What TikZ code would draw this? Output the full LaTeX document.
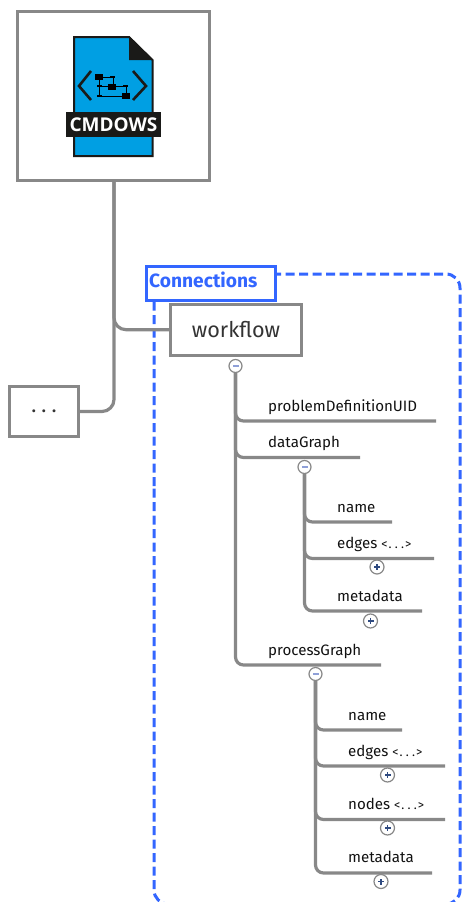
\documentclass[tikz,border=0pt]{standalone}
\usepackage{fontspec}
\setmainfont{Fira Sans}
\newfontfamily\iconfont{Open Sans}
\definecolor{edgegray}{HTML}{888888}
\definecolor{txt}{HTML}{333333}
\definecolor{leaftxt}{HTML}{111111}
\definecolor{conblue}{HTML}{3366FF}
\definecolor{iconblue}{HTML}{009FE3}
\definecolor{iconblack}{HTML}{1A1A18}
\definecolor{minusblue}{HTML}{8FA0D8}
\definecolor{plusblue}{HTML}{2F4A80}
\newcommand{\spdots}{\kern1bp.\kern3.2bp.\kern3.2bp.\kern1bp}
\newcommand{\bigdots}{.\kern5bp.\kern5bp.}
\tikzset{
  x=1bp,y=-1bp,
  elementbox/.style={draw=edgegray,line width=3bp,fill=white,inner sep=0pt,outer sep=0pt,anchor=north west,text=txt},
  trunk/.style={draw=edgegray,line width=3.2bp,rounded corners=12bp},
  branch/.style={draw=edgegray,line width=3.2bp,rounded corners=8bp},
  leaflabel/.style={anchor=base west,inner sep=0pt,text=leaftxt,font=\fontsize{15.1bp}{17bp}\selectfont},
  toggle/.style={circle,draw=edgegray,line width=1.2bp,fill=white,minimum size=13bp,inner sep=0pt},
  dashframe/.style={conblue,line width=3bp,dash pattern=on 9bp off 4.5bp,rounded corners=14bp},
}
\newcommand{\minussign}[1]{\fill[minusblue] ([xshift=-3bp,yshift=-.7bp]#1.center) rectangle ([xshift=3bp,yshift=.7bp]#1.center);}
\newcommand{\plussign}[1]{\fill[plusblue] ([xshift=-3bp,yshift=-.7bp]#1.center) rectangle ([xshift=3bp,yshift=.7bp]#1.center);
  \fill[plusblue] ([xshift=-.7bp,yshift=-3bp]#1.center) rectangle ([xshift=.7bp,yshift=3bp]#1.center);}
\begin{document}
\begin{tikzpicture}
\useasboundingbox (0,0) rectangle (462,902);
% dashed group
\begin{scope}
\clip (0,0) rectangle (462,902);
\draw[dashframe] (154,500) -- (154,274) -- (460,274) -- (460,904) -- (154,904) -- cycle;
\end{scope}
% boxes
\node[elementbox,minimum width=191.7bp,minimum height=169bp] (root) at (17.5,11.5) {};
\node[elementbox,minimum width=69bp,minimum height=50bp,font=\fontsize{21bp}{23bp}\selectfont] (dots) at (9.5,386.5) {\raisebox{1bp}{\bigdots}};
\node[draw=conblue,line width=3bp,fill=white,anchor=north west,minimum width=129bp,minimum height=33.5bp,inner sep=0pt,outer sep=0pt] (conn) at (146.5,266.5) {};
\node[anchor=base west,inner sep=0pt,text=conblue,font=\fontsize{19.2bp}{21bp}\selectfont\bfseries] (connlabel) at (149,287) {Connections};
% trunk
\coordinate (trunkx) at (114,0);
\coordinate (dotsout) at (78.5,411.5);
\draw[trunk] (root.south -| trunkx) -- (trunkx |- dotsout) -- (dotsout);
\node[elementbox,minimum width=131bp,minimum height=51bp,font=\fontsize{21.6bp}{24bp}\selectfont] (workflow) at (170.5,304.2) {workflow};
\draw[trunk] (root.south -| trunkx) -- (trunkx |- workflow.west) -- (workflow.west);
% icon
\draw[iconblack,line width=2bp,fill=iconblue] (74,37) -- (129,37) -- (152.5,60) -- (152.5,156) -- (74,156) -- cycle;
\fill[iconblack] (129,36) -- (153,60) -- (129,60) -- cycle;
\draw[iconblack,line width=2.6bp] (91,71) -- (79,86) -- (91,100);
\draw[iconblack,line width=2.6bp] (133,71) -- (146,86) -- (133,100);
\fill[black] (95,74) rectangle (103,80);
\fill[black] (108,84) rectangle (116,90);
\fill[black] (122,93) rectangle (130,99);
\fill[black] (110,76) rectangle (115,78);
\fill[black] (97,85) rectangle (102,87);
\fill[black] (123,85) rectangle (128,87);
\fill[black] (97,95) rectangle (102,97);
\draw[black,line width=.7bp] (97,86) -- (128,86) (103,77) -- (113,77) (99,77) -- (99,96) -- (122,96) (113,77) -- (113,84) (126,86) -- (126,93);
\fill[iconblack] (66,112) rectangle (161,137);
\node[anchor=center,inner sep=0pt,text=white,font=\iconfont\fontsize{19bp}{21bp}\selectfont\bfseries] (iconlabel) at (113.5,125) {CMDOWS};
% level 1
\node[toggle] (t1) at (235.5,366) {};
\node[leaflabel] (pd) at (268,411) {problemDefinitionUID};
\node[leaflabel] (dg) at (268,447) {dataGraph};
\node[leaflabel] (pg) at (268,655) {processGraph};
\coordinate (pdend) at (436,421);
\coordinate (dgend) at (360,457.5);
\coordinate (pgend) at (381,665);
\draw[branch] (t1.south) -- (t1.south |- pdend) -- (pdend);
\draw[branch] (t1.south) -- (t1.south |- dgend) -- (dgend);
\draw[branch] (t1.south) -- (t1.south |- pgend) -- (pgend);
% dataGraph
\node[toggle] (t2) at (304.5,467) {};
\node[leaflabel] (n1) at (337,512) {name};
\node[leaflabel] (e1) at (337,548) {edges {\fontsize{12.5bp}{14bp}\selectfont <\spdots>}};
\node[leaflabel] (m1) at (337,601) {metadata};
\coordinate (n1end) at (392,522);
\coordinate (e1end) at (434,558.5);
\coordinate (m1end) at (422,611);
\draw[branch] (t2.south) -- (t2.south |- n1end) -- (n1end);
\draw[branch] (t2.south) -- (t2.south |- e1end) -- (e1end);
\draw[branch] (t2.south) -- (t2.south |- m1end) -- (m1end);
\node[toggle,minimum size=14bp] (p1) at (377,567) {};
\node[toggle,minimum size=14bp] (p2) at (370.5,621) {};
% processGraph
\node[toggle] (t3) at (315.5,674) {};
\node[leaflabel] (n2) at (348,720) {name};
\node[leaflabel] (e2) at (348,756) {edges {\fontsize{12.5bp}{14bp}\selectfont <\spdots>}};
\node[leaflabel] (d2) at (348,809) {nodes {\fontsize{12.5bp}{14bp}\selectfont <\spdots>}};
\node[leaflabel] (m2) at (348,862) {metadata};
\coordinate (n2end) at (402,730);
\coordinate (e2end) at (445,766);
\coordinate (d2end) at (445,819.5);
\coordinate (m2end) at (432,873);
\draw[branch] (t3.south) -- (t3.south |- n2end) -- (n2end);
\draw[branch] (t3.south) -- (t3.south |- e2end) -- (e2end);
\draw[branch] (t3.south) -- (t3.south |- d2end) -- (d2end);
\draw[branch] (t3.south) -- (t3.south |- m2end) -- (m2end);
\node[toggle,minimum size=14bp] (p3) at (387.5,775) {};
\node[toggle,minimum size=14bp] (p4) at (387.5,828) {};
\node[toggle,minimum size=14bp] (p5) at (381,881.5) {};
\minussign{t1}\minussign{t2}\minussign{t3}
\plussign{p1}\plussign{p2}\plussign{p3}\plussign{p4}\plussign{p5}
\end{tikzpicture}
\end{document}
